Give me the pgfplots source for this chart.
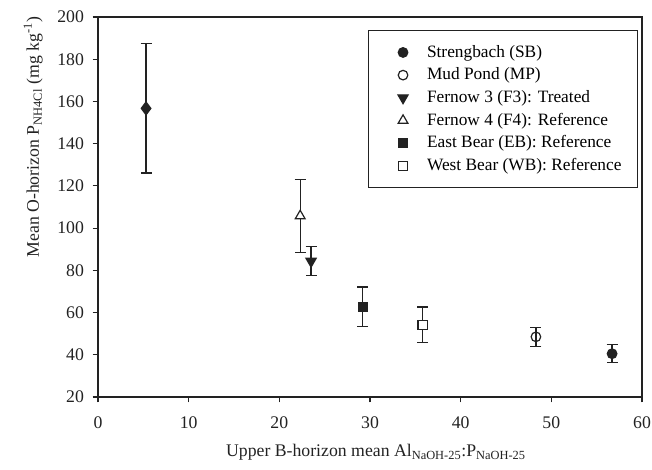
\documentclass[border=0pt]{standalone}
\usepackage{pgfplots}
\pgfplotsset{compat=1.18}
\usepackage{fontspec}
\setmainfont{Liberation Serif}
\definecolor{ink}{HTML}{222222}
\pgfplotsset{
  mk/.style={only marks,
    legend image code/.code={%
      \path[draw=none, fill=none] (0pt,-3pt) rectangle (32pt,3pt);
      \draw[##1] plot coordinates {(16pt,0pt)};}},
}
\begin{document}
\begin{tikzpicture}
\begin{axis}[
  name=ax,
  scale only axis,
  width=408pt, height=285pt,
  xmin=0, xmax=60, ymin=20, ymax=200,
  xtick={0,10,...,60}, ytick={20,40,...,200},
  tick align=outside, tick pos=left,
  major tick length=4pt,
  axis line style={ink, line width=0.9pt},
  tick style={ink, line width=0.9pt},
  /pgf/number format/assume math mode=true,
  tick label style={font=\fontsize{13.3}{15}\selectfont, ink},
  xticklabel style={yshift=-7pt},
  yticklabel style={xshift=-3pt},
  xlabel={Upper B-horizon mean Al\textsubscript{NaOH-25}:P\textsubscript{NaOH-25}},
  ylabel={Mean O-horizon P\textsubscript{NH4Cl} (mg kg\textsuperscript{-1})},
  label style={font=\fontsize{13.3}{15}\selectfont, ink},
  xlabel style={at={(axis description cs:0.511,-0.145)}, anchor=center},
  ylabel style={at={(axis description cs:-0.119,0.684)}, anchor=center},
  legend style={at={(0.9926,0.9658)}, anchor=north east, draw=ink, line width=0.7pt,
    font=\fontsize{13}{15}\selectfont, inner xsep=10pt, inner ysep=10pt,
    nodes={inner ysep=0pt, text height=10pt, text depth=3pt},
    row sep=4pt},
  legend cell align=left,
  every axis plot/.append style={ink, line width=0.9pt},
  error bars/error bar style={ink, line width=0.9pt},
  error bars/error mark options={rotate=90, mark size=4.1pt, ink, line width=0.9pt},
]
\addplot[mk, mark=*, mark size=3.6pt, mark options={fill=ink},
  error bars/.cd, y dir=both, y explicit]
  coordinates {(56.7,40.5) +- (0,4.2)};
\addlegendentry{Strengbach (SB)}
\addplot[mk, mark=o, mark size=3.6pt, mark options={fill=white},
  error bars/.cd, y dir=both, y explicit]
  coordinates {(48.3,48.5) +- (0,4.4)};
\addlegendentry{Mud Pond (MP)}
\addplot[mk, mark=triangle*, mark size=4.4pt, mark options={rotate=180, fill=ink},
  error bars/.cd, y dir=both, y explicit]
  coordinates {(23.5,84.3) +- (0,6.8)};
\addlegendentry{Fernow 3 (F3): Treated}
\addplot[mk, mark=triangle*, mark size=4.2pt, mark options={fill=white},
  error bars/.cd, y dir=both, y explicit]
  coordinates {(22.3,105.8) +- (0,17.2)};
\addlegendentry{Fernow 4 (F4): Reference}
\addplot[mk, mark=square*, mark size=3.4pt, mark options={fill=ink},
  error bars/.cd, y dir=both, y explicit]
  coordinates {(29.2,62.8) +- (0,9.3)};
\addlegendentry{East Bear (EB): Reference}
\addplot[mk, mark=square*, mark size=3.4pt, mark options={fill=white},
  error bars/.cd, y dir=both, y explicit]
  coordinates {(35.8,54.2) +- (0,8.4)};
\addlegendentry{West Bear (WB): Reference}
\addplot[only marks, mark=diamond*, mark size=4.8pt, mark options={fill=ink}, forget plot,
  error bars/.cd, y dir=both, y explicit]
  coordinates {(5.3,156.7) +- (0,30.6)};
\end{axis}
\path (ax.south west) ++(-73.5pt,-54.75pt) coordinate (bbA);
\path (ax.north east) ++(7.5pt,12.75pt) coordinate (bbB);
\pgfresetboundingbox
\path (bbA) rectangle (bbB);
\end{tikzpicture}
\end{document}
